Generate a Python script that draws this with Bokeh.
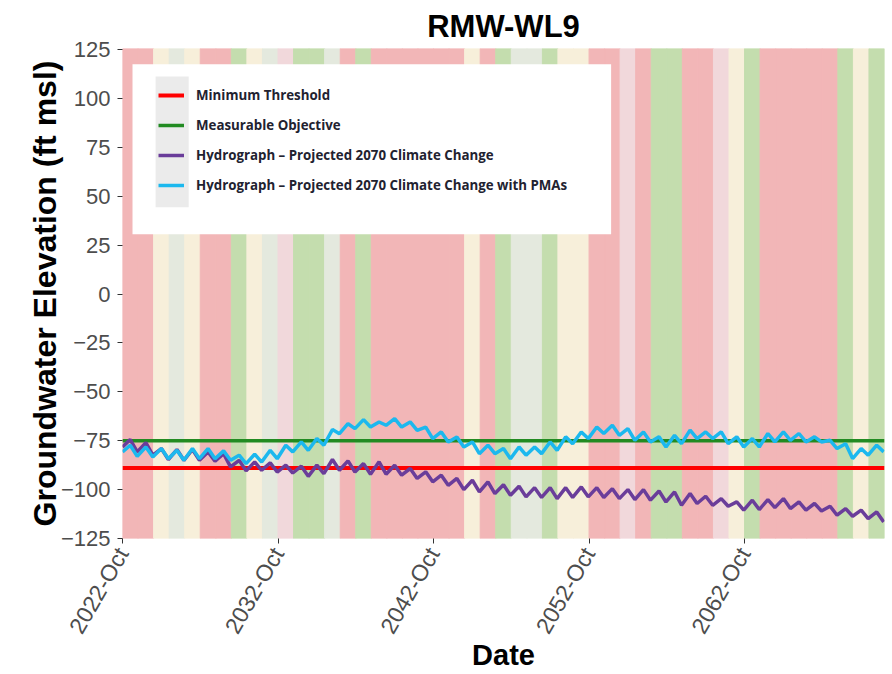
import math
import datetime as dt
from bokeh.plotting import figure
from bokeh.models import (Range1d, FixedTicker, DatetimeTickFormatter, Legend,
                          LegendItem, ColumnDataSource)
from bokeh.embed import file_html
from bokeh.resources import INLINE

# ---------------- data ----------------
water_years = list(range(2023, 2072))  # WY2023 (Oct 2022) .. WY2071
year_types = ["C", "C", "BN", "AN", "BN", "C", "C", "W", "BN", "AN",
              "D", "W", "W", "AN", "C", "W", "C", "C", "C", "C",
              "C", "C", "BN", "C", "W", "AN", "AN", "W", "BN", "BN",
              "C", "C", "D", "C", "W", "W", "C", "C", "D", "BN",
              "W", "C", "C", "C", "C", "C", "W", "BN", "W"]
type_colors = {"C": "#F2B6B7", "D": "#F1D8DB", "BN": "#F7EFDA",
               "AN": "#E4E9DE", "W": "#C4DDAE"}

minimum_threshold = -89.0
measurable_objective = -75.0

# Hydrograph - Projected 2070 Climate Change (seasonal high / low per water year)
cc_start = -78.2
cc_high = [-74.4, -76.0, -79.0, -79.5, -79.5, -80.7, -81.6, -85.0, -85.8, -86.3,
           -87.5, -88.0, -87.5, -84.6, -85.3, -86.7, -85.8, -87.5, -89.2, -90.9,
           -92.6, -94.3, -95.2, -96.0, -97.5, -98.3, -99.0, -99.0, -99.0, -98.6,
           -99.0, -99.5, -100.0, -100.0, -100.7, -101.2, -102.0, -103.4, -104.6, -106.3,
           -105.4, -105.1, -104.6, -106.3, -107.1, -108.5, -109.7, -110.5, -111.4]
cc_low = [-80.7, -82.4, -84.6, -85.0, -85.0, -85.5, -88.4, -90.4, -90.1, -91.0,
          -91.5, -93.2, -91.8, -90.1, -91.0, -92.1, -92.1, -92.6, -94.3, -96.0,
          -97.8, -100.0, -101.2, -102.0, -102.9, -103.7, -104.0, -104.6, -104.0, -103.7,
          -104.0, -104.6, -105.1, -105.4, -106.3, -108.0, -107.1, -108.0, -108.5, -110.5,
          -110.2, -109.2, -109.7, -110.5, -110.9, -113.1, -113.6, -114.8, -116.5]

# Hydrograph - Projected 2070 Climate Change with PMAs
pma_start = -80.7
pma_high = [-77.3, -78.2, -79.0, -79.9, -79.0, -79.0, -80.2, -82.4, -81.9, -79.9,
            -77.3, -75.6, -73.9, -69.3, -66.3, -64.2, -65.4, -63.7, -65.4, -68.0,
            -70.5, -73.1, -75.6, -77.3, -79.0, -78.2, -78.2, -75.6, -73.0, -70.5,
            -68.0, -67.1, -68.8, -70.5, -73.0, -72.2, -69.6, -70.5, -70.5, -73.0,
            -73.9, -71.3, -70.5, -71.3, -73.0, -74.8, -76.5, -79.0, -77.3]
pma_low = [-83.0, -83.3, -84.2, -85.0, -84.2, -84.2, -85.0, -86.7, -85.9, -84.2,
           -80.7, -79.9, -77.3, -71.4, -68.8, -68.0, -67.1, -68.0, -69.7, -73.9,
           -75.6, -78.2, -81.6, -81.6, -84.2, -82.4, -81.6, -79.9, -76.5, -73.9,
           -71.3, -72.2, -74.8, -75.6, -78.2, -76.5, -73.9, -73.9, -76.5, -78.2,
           -78.2, -75.6, -74.8, -75.6, -75.6, -79.0, -84.1, -82.4, -80.7]

y_ticks = [-125, -100, -75, -50, -25, 0, 25, 50, 75, 100, 125]
x_tick_years = [2022, 2032, 2042, 2052, 2062]

labels = ["Minimum Threshold", "Measurable Objective",
          "Hydrograph \u2013 Projected 2070 Climate Change",
          "Hydrograph \u2013 Projected 2070 Climate Change with PMAs"]

# ---------------- build ----------------
def wy_start(wy):
    return dt.datetime(wy - 1, 10, 1)

t0 = wy_start(water_years[0])
t1 = dt.datetime(water_years[-1], 10, 1)
Y0, Y1 = -125.0, 125.6

times = [t0]
for wy in water_years:
    times += [dt.datetime(wy, 4, 1), dt.datetime(wy, 9, 12)]

def series(start, highs, lows):
    out = [start]
    for h, l in zip(highs, lows):
        out += [h, l]
    return out

cc_vals = series(cc_start, cc_high, cc_low)
pma_vals = series(pma_start, pma_high, pma_low)

p = figure(width=892, height=674, x_axis_type="datetime",
           x_range=Range1d(t0, t1), y_range=Range1d(Y0, Y1),
           output_backend="svg", toolbar_location=None,
           min_border_left=122, min_border_right=8, min_border_top=48,
           min_border_bottom=135)
p.outline_line_color = None
p.background_fill_color = "white"
p.grid.visible = False

band_src = ColumnDataSource(dict(
    left=[wy_start(w) for w in water_years],
    right=[wy_start(w + 1) for w in water_years],
    color=[type_colors[t] for t in year_types]))
p.quad(left="left", right="right", bottom=Y0, top=Y1, fill_color="color",
       line_color="color", line_width=1, source=band_src)

# legend panel (white box with grey key strip)
p.quad(left=[dt.datetime(2023, 5, 24)], right=[dt.datetime(2054, 3, 3)],
       bottom=[30.6], top=[117.5], fill_color="white", line_color=None)
p.quad(left=[dt.datetime(2024, 11, 17)], right=[dt.datetime(2027, 1, 3)],
       bottom=[44.4], top=[111.3], fill_color="#EBEBEB", line_color=None)

r_mt = p.line([t0, t1], [minimum_threshold] * 2, line_color="#FF0000", line_width=4)
r_mo = p.line([t0, t1], [measurable_objective] * 2, line_color="#228B22", line_width=3.5)
r_cc = p.line(times, cc_vals, line_color="#6A3D9A", line_width=3.5)
r_pma = p.line(times, pma_vals, line_color="#1CB8EE", line_width=3.5)

legend = Legend(items=[LegendItem(label=l, renderers=[r])
                       for l, r in zip(labels, [r_mt, r_mo, r_cc, r_pma])],
                location=(36, 342), orientation="vertical")
legend.background_fill_alpha = 0.0
legend.border_line_color = None
legend.label_text_font = "Open Sans"
legend.label_text_font_style = "bold"
legend.label_text_font_size = "13.3px"
legend.label_text_color = "#222230"
legend.glyph_width = 26
legend.glyph_height = 22
legend.label_height = 22
legend.label_standoff = 12
legend.spacing = 8
legend.padding = 0
legend.margin = 0
p.add_layout(legend, "center")

# title
p.title.text = "RMW-WL9"
p.title.align = "center"
p.title.text_font = "Liberation Sans"
p.title.text_font_style = "bold"
p.title.text_font_size = "31px"
p.title.text_color = "black"

# axes
epoch = dt.datetime(1970, 1, 1)
xa = p.xaxis[0]
xa.ticker = FixedTicker(ticks=[(dt.datetime(y, 10, 1) - epoch).total_seconds() * 1000
                               for y in x_tick_years])
xa.formatter = DatetimeTickFormatter(years="%Y-%b", months="%Y-%b", days="%Y-%b",
                                     hours="%Y-%b", hourmin="%Y-%b", minutes="%Y-%b",
                                     minsec="%Y-%b", seconds="%Y-%b", milliseconds="%Y-%b",
                                     microseconds="%Y-%b")
xa.major_label_orientation = math.pi / 3
xa.axis_label = "Date"

ya = p.yaxis[0]
ya.ticker = FixedTicker(ticks=y_ticks)
ya.axis_label = "Groundwater Elevation (ft msl)"

for ax in (xa, ya):
    ax.axis_line_color = None
    ax.major_tick_line_color = "#333333"
    ax.major_tick_line_width = 1
    ax.major_tick_out = 5
    ax.major_tick_in = 0
    ax.minor_tick_line_color = None
    ax.major_label_text_font = "Liberation Sans"
    ax.major_label_text_color = "#4D4D4D"
    ax.axis_label_text_font = "Liberation Sans"
    ax.axis_label_text_font_style = "bold"
    ax.axis_label_text_color = "black"
ya.major_label_text_font_size = "22px"
xa.major_label_text_font_size = "23px"
ya.major_label_standoff = 7
xa.major_label_standoff = 6
ya.axis_label_text_font_size = "32px"
ya.axis_label_standoff = -5
xa.axis_label_text_font_size = "29px"
xa.axis_label_standoff = -8

open("out.html", "w").write(file_html(p, INLINE))
